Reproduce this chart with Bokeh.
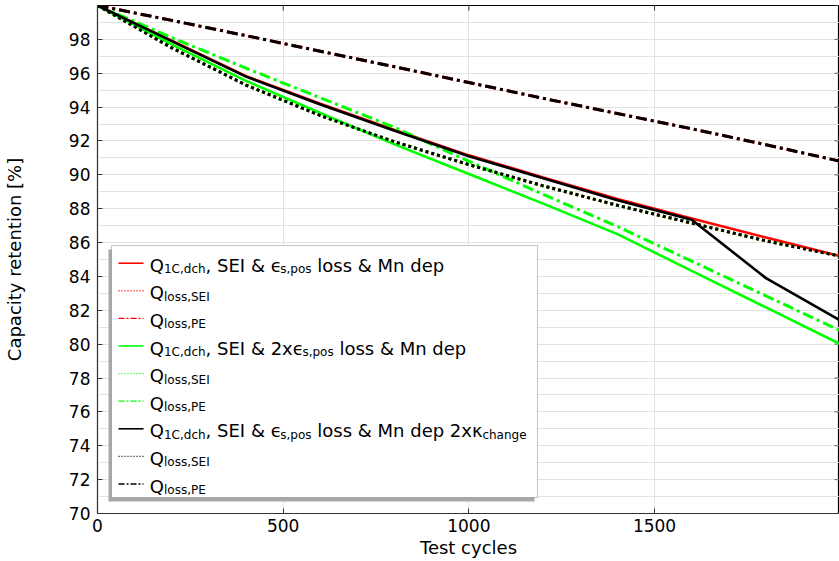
import math
from bokeh.plotting import figure
from bokeh.models import FixedTicker, BoxAnnotation, Range1d
from bokeh.embed import file_html
from bokeh.resources import INLINE
from bokeh.core.properties import value

# ---------------- data ----------------
cycles = [0, 200, 400, 600, 800, 1000, 1200, 1400, 1600, 1800, 2000]

# SEI & eps_s,pos loss & Mn dep
red_q1c = [100, 97.92, 95.83, 94.2, 92.65, 91.15, 89.85, 88.57, 87.42, 86.3, 85.2]
red_loss_sei = [100, 97.5, 95.3, 93.5, 91.95, 90.6, 89.35, 88.2, 87.15, 86.1, 85.2]
red_loss_pe = [100, 99.12, 98.22, 97.3, 96.38, 95.45, 94.52, 93.62, 92.72, 91.78, 90.8]
# SEI & 2x eps_s,pos loss & Mn dep
green_q1c = [100, 97.7, 95.55, 93.65, 91.8, 90.05, 88.3, 86.5, 84.33, 82.17, 80.0]
green_loss_sei = [100, 97.5, 95.3, 93.5, 91.95, 90.6, 89.35, 88.2, 87.15, 86.1, 85.2]
green_loss_pe = [100, 98.1, 96.3, 94.55, 92.8, 90.8, 88.85, 86.95, 84.9, 82.85, 80.8]
# SEI & eps_s,pos loss & Mn dep 2x kappa_change
black_q1c = [100, 97.9, 95.8, 94.15, 92.6, 91.1, 89.8, 88.5, 87.35, 83.9, 81.4]
black_loss_sei = [100, 97.5, 95.3, 93.5, 91.95, 90.6, 89.35, 88.2, 87.15, 86.1, 85.2]
black_loss_pe = [100, 99.12, 98.22, 97.3, 96.38, 95.45, 94.52, 93.62, 92.72, 91.78, 90.8]

x_ticks = [0, 500, 1000, 1500]
y_ticks = [70, 72, 74, 76, 78, 80, 82, 84, 86, 88, 90, 92, 94, 96, 98]
y_minor = list(range(70, 101))
right_ticks = y_ticks + [100]

x_label = "Test cycles"
y_label = "Capacity retention [%]"

# legend texts: (run, is_subscript)
legend_runs = [
    [("Q", 0), ("1C,dch", 1), (", SEI & ϵ", 0), ("s,pos", 1), (" loss & Mn dep", 0)],
    [("Q", 0), ("loss,SEI", 1)],
    [("Q", 0), ("loss,PE", 1)],
    [("Q", 0), ("1C,dch", 1), (", SEI & 2xϵ", 0), ("s,pos", 1), (" loss & Mn dep", 0)],
    [("Q", 0), ("loss,SEI", 1)],
    [("Q", 0), ("loss,PE", 1)],
    [("Q", 0), ("1C,dch", 1), (", SEI & ϵ", 0), ("s,pos", 1), (" loss & Mn dep 2xκ", 0), ("change", 1)],
    [("Q", 0), ("loss,SEI", 1)],
    [("Q", 0), ("loss,PE", 1)],
]

RED, GREEN, BLACK = "#ff0000", "#00ff00", "#000000"
SOLID, DOT, DASHDOT = "solid", "3 3", "11 4 3 4"
series = [
    (red_q1c, RED, 2.6, SOLID),
    (red_loss_sei, RED, 3, DOT),
    (red_loss_pe, RED, 3, DASHDOT),
    (green_q1c, GREEN, 2.6, SOLID),
    (green_loss_sei, GREEN, 3, DOT),
    (green_loss_pe, GREEN, 3, DASHDOT),
    (black_q1c, BLACK, 2.6, SOLID),
    (black_loss_sei, BLACK, 3, DOT),
    (black_loss_pe, BLACK, 3, DASHDOT),
]
legend_styles = [
    (RED, "solid", 1.6), (RED, "1 2", 1.4), (RED, "6 2 2 2", 1.3),
    (GREEN, "solid", 1.6), (GREEN, "1 2", 1.4), (GREEN, "6 2 2 2", 1.3),
    (BLACK, "solid", 1.6), (BLACK, "1 2", 1.4), (BLACK, "6 2 2 2", 1.3),
]

FONT = "DejaVu Sans"

# ---------------- layout geometry (page pixels; Bokeh page has no margin) ----------------
W_PLOT, H_PLOT = 839, 561
BORDER_L, BORDER_R, BORDER_T, BORDER_B = 97, 0, 5, 48
X_END = 1998
FRAME_L = BORDER_L
FRAME_R = W_PLOT - BORDER_R
FRAME_T = BORDER_T
FRAME_B = H_PLOT - BORDER_B


def px2x(px):
    return (px - FRAME_L) / (FRAME_R - FRAME_L) * X_END


def py2y(py):
    return 70 + (FRAME_B - py) / (FRAME_B - FRAME_T) * 30


p = figure(width=W_PLOT, height=H_PLOT, x_range=Range1d(0, X_END), y_range=Range1d(70, 100),
           output_backend="svg", toolbar_location=None,
           min_border_left=BORDER_L, min_border_right=BORDER_R,
           min_border_top=BORDER_T, min_border_bottom=BORDER_B)
p.background_fill_color = "white"
p.border_fill_color = "white"
p.outline_line_color = "black"
p.outline_line_width = 1.2

# axes
for ax in (p.xaxis[0], p.yaxis[0]):
    ax.major_tick_in = 5
    ax.major_tick_out = 0
    ax.minor_tick_line_color = None
    ax.axis_line_color = "#333333"
    ax.major_tick_line_color = "#333333"
    ax.major_label_text_font = FONT
    ax.major_label_text_font_size = "17px"
    ax.major_label_text_color = "black"
    ax.axis_label_text_font = FONT
    ax.axis_label_text_font_size = "18px"
    ax.axis_label_text_font_style = "normal"
    ax.axis_label_text_color = "black"

p.xaxis.ticker = FixedTicker(ticks=x_ticks)
p.xaxis.axis_label = x_label
p.xaxis.major_label_standoff = 5
p.xaxis.axis_label_standoff = 2
p.yaxis.ticker = FixedTicker(ticks=y_ticks, minor_ticks=y_minor)
p.yaxis.axis_label = y_label
p.yaxis.major_label_standoff = 3
p.yaxis.axis_label_standoff = 41

# grid
p.xgrid.ticker = FixedTicker(ticks=x_ticks)
p.xgrid.grid_line_color = "#e2e2e2"
p.ygrid.ticker = FixedTicker(ticks=y_ticks, minor_ticks=y_minor)
p.ygrid.grid_line_color = "#e2e2e2"
p.ygrid.minor_grid_line_color = "#e2e2e2"

# inward tick marks on the top and right frame edges
p.ray(x=x_ticks, y=[100] * len(x_ticks), length=5, angle=-math.pi / 2, length_units="screen",
      line_color="#333333", line_width=1)
p.ray(x=[X_END] * len(right_ticks), y=right_ticks, length=5, angle=math.pi, length_units="screen",
      line_color="#606060", line_width=1)

# curves
for vals, color, lw, dash in series:
    p.line(cycles, vals, line_color=color, line_width=lw, line_dash=dash)

# ---------------- legend (drawn by hand for sub-scripts) ----------------
BOX_L, BOX_R, BOX_T, BOX_B = 111, 537, 245, 497
p.add_layout(BoxAnnotation(left=px2x(BOX_L - 3), right=px2x(BOX_R - 3), top=py2y(BOX_T + 4),
                           bottom=py2y(BOX_B + 4), fill_color="#a8a8a8", fill_alpha=1,
                           line_color=None))
p.add_layout(BoxAnnotation(left=px2x(BOX_L), right=px2x(BOX_R), top=py2y(BOX_T),
                           bottom=py2y(BOX_B), fill_color="white", fill_alpha=1,
                           line_color="#3a3a3a", line_width=1))

ROW0, ROW_STEP = 262.7, 27.6
SAMPLE_X, TEXT_X = 118, 149.3
MAIN, SUB = 18, 12

ADV = {" ": 651, ",": 651, "&": 1595, "1": 1303, "2": 1303, "C": 1430, "E": 1294,
       "I": 604, "M": 1767, "P": 1235, "Q": 1612, "S": 1300, "a": 1255, "c": 1126,
       "d": 1300, "e": 1260, "g": 1300, "h": 1298, "l": 569, "n": 1298, "o": 1253,
       "p": 1300, "s": 1067, "x": 1212, "ϵ": 1100, "κ": 1190}


def tw(s, size):
    return sum(ADV.get(ch, 1200) for ch in s) / 2048.0 * size


for i, (color, dash, lw) in enumerate(legend_styles):
    yy = py2y(ROW0 + ROW_STEP * i)
    p.ray(x=[px2x(SAMPLE_X)], y=[yy], length=25, angle=0, length_units="screen",
          line_color=color, line_dash=dash, line_width=lw, level="overlay")

main_t = dict(x=[], y=[], text=[], xo=[])
sub_t = dict(x=[], y=[], text=[], xo=[])
for i, runs in enumerate(legend_runs):
    yy = py2y(ROW0 + ROW_STEP * i)
    off = 0.0
    for s, is_sub in runs:
        size = SUB if is_sub else MAIN
        lead = len(s) - len(s.lstrip(" "))
        d = sub_t if is_sub else main_t
        d["x"].append(px2x(TEXT_X))
        d["y"].append(yy)
        d["text"].append(s.strip(" "))
        d["xo"].append(off + tw(" " * lead, size))
        off += tw(s, size)

p.text(x=main_t["x"], y=main_t["y"], text=main_t["text"], x_offset=main_t["xo"],
       y_offset=2.0, text_font=value(FONT), text_font_size="18px", text_color="black",
       text_baseline="alphabetic", text_align="left", level="overlay")
p.text(x=sub_t["x"], y=sub_t["y"], text=sub_t["text"], x_offset=sub_t["xo"],
       y_offset=6.0, text_font=value(FONT), text_font_size="12px", text_color="black",
       text_baseline="alphabetic", text_align="left", level="overlay")

open("out.html", "w").write(file_html(p, INLINE))
